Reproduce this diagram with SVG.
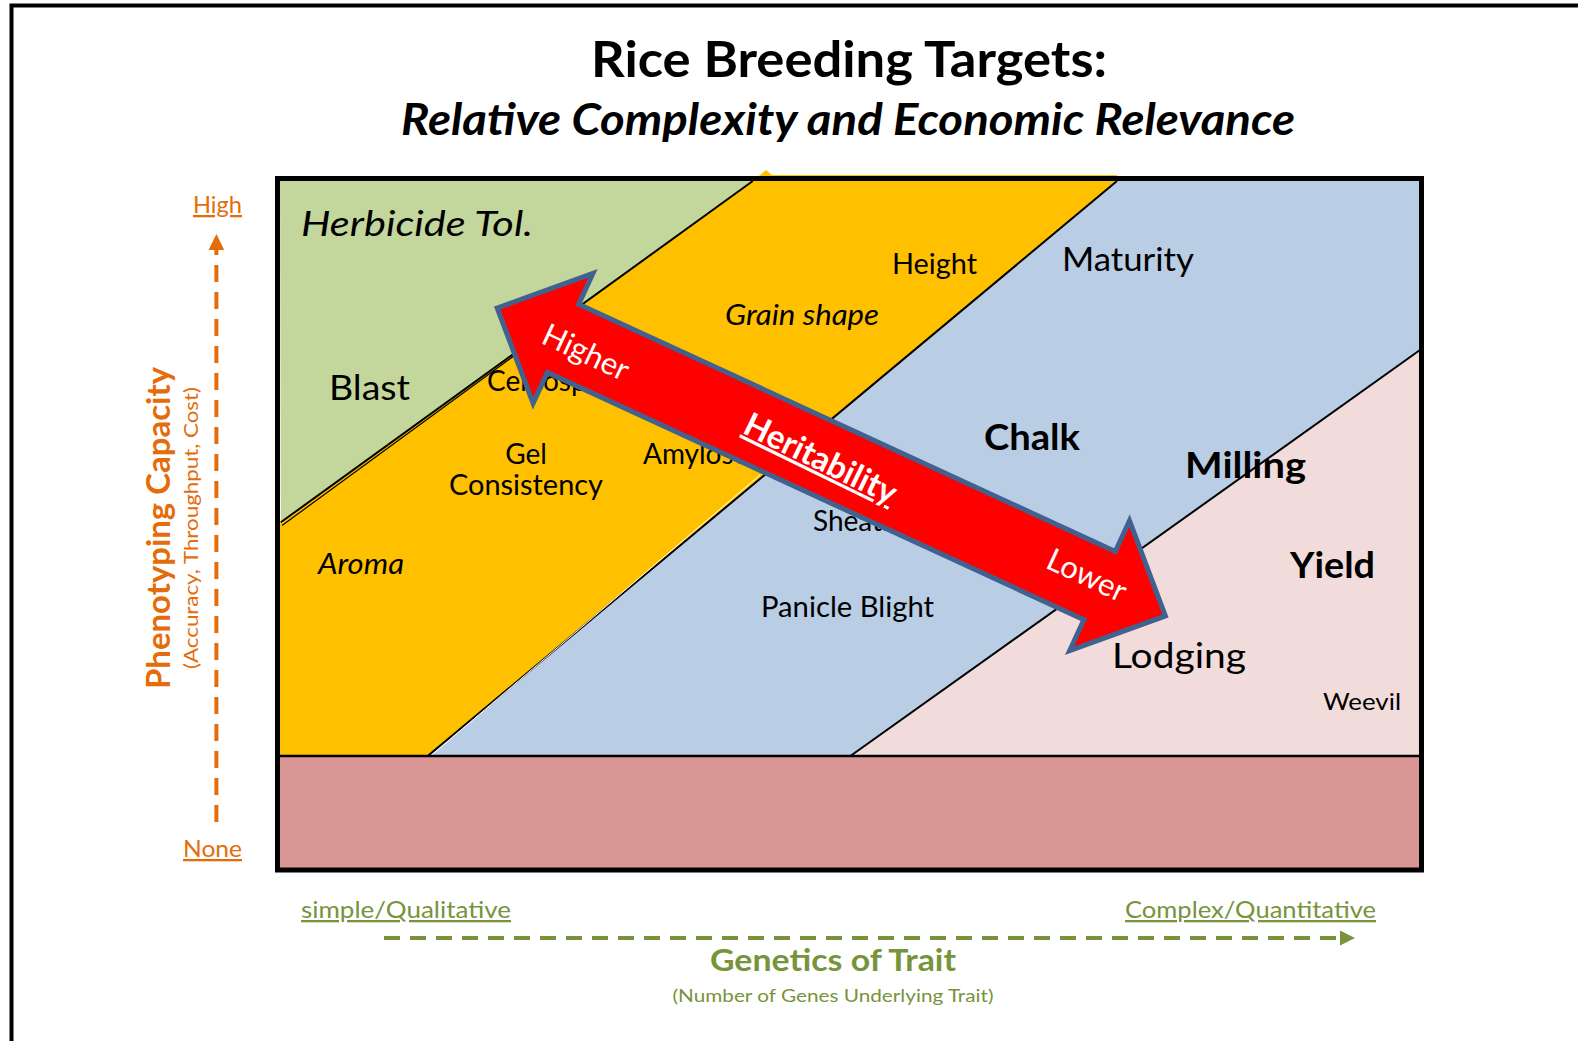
<svg xmlns="http://www.w3.org/2000/svg" width="1578" height="1041" viewBox="0 0 1578 1041">
  <style>
    text { font-family: Lato, "Open Sans", "Liberation Sans", sans-serif; fill: #000; }
    .bold { font-weight: bold; }
    .ital { font-style: italic; }
    .orange { fill: #E46C0A; }
    .green { fill: #77933C; }
    .white { fill: #FFFFFF; }
    .ul { text-decoration: underline; }
    .edge { stroke: #000; stroke-width: 2; fill: none; }
  </style>

  <!-- outer frame -->
  <path d="M11.5,1048 V5.5 H1590" fill="none" stroke="#000" stroke-width="4"/>

  <!-- title -->
  <g id="title">
    <text x="849" y="77" text-anchor="middle" class="bold" font-size="50" textLength="516" lengthAdjust="spacingAndGlyphs">Rice Breeding Targets:</text>
    <text x="848" y="135" text-anchor="middle" class="bold ital" font-size="44" textLength="894" lengthAdjust="spacingAndGlyphs">Relative Complexity and Economic Relevance</text>
  </g>

  <!-- chart regions -->
  <g id="regions">
    <rect x="280" y="181" width="1140" height="688" fill="#FFFFFF"/>
    <polygon id="zone-green" points="280,181 752.8,181 280.8,522.3" fill="#C3D69B"/>
    <polygon id="zone-yellow" points="752.8,181 760,175 766,170 772,175 1117,175 1117,181 427.7,756 280,756 280,522.3" fill="#FFC000"/>
    <polygon id="zone-blue" points="1117,181 1420,181 1420,350 850.4,756 427.7,756" fill="#B9CDE5"/>
    <polygon id="zone-pink" points="1420,350 1420,756 850.4,756" fill="#F2DCDB"/>
    <rect id="zone-base" x="280" y="756" width="1140" height="113" fill="#D99694"/>
    <!-- boundaries between zones -->
    <line class="edge" x1="752.8" y1="181" x2="280.8" y2="522.3"/>
    <line x1="522" y1="350" x2="282" y2="525.5" stroke="#000" stroke-width="1.2"/>
    <line class="edge" x1="1117" y1="181" x2="427.7" y2="756"/>
    <line x1="760" y1="475" x2="430.5" y2="756" stroke="#FFFFFF" stroke-width="1"/>
    <line class="edge" x1="1420" y1="350" x2="850.4" y2="756"/>
    <line x1="280" y1="756" x2="1420" y2="756" stroke="#000" stroke-width="2.5"/>
    <rect x="277.5" y="178.5" width="1144" height="691.5" fill="none" stroke="#000" stroke-width="5"/>
  </g>

  <!-- trait labels -->
  <g id="traits">
    <text x="301" y="236" class="ital" font-size="35" textLength="232" lengthAdjust="spacingAndGlyphs">Herbicide Tol.</text>
    <text x="329" y="400" font-size="35" textLength="81" lengthAdjust="spacingAndGlyphs">Blast</text>
    <text x="487" y="391" font-size="28">Cercospora</text>
    <text x="526" y="464" text-anchor="middle" font-size="28">Gel</text>
    <text x="526" y="495" text-anchor="middle" font-size="28" textLength="154" lengthAdjust="spacingAndGlyphs">Consistency</text>
    <text x="643" y="464" font-size="28">Amylose</text>
    <text x="725" y="325" class="ital" font-size="28" textLength="154" lengthAdjust="spacingAndGlyphs">Grain shape</text>
    <text x="892" y="274" font-size="28" textLength="85" lengthAdjust="spacingAndGlyphs">Height</text>
    <text x="1062" y="271" font-size="32" textLength="132" lengthAdjust="spacingAndGlyphs">Maturity</text>
    <text x="984" y="450" class="bold" font-size="37" textLength="96" lengthAdjust="spacingAndGlyphs">Chalk</text>
    <text x="1185" y="478" class="bold" font-size="37" textLength="121" lengthAdjust="spacingAndGlyphs">Milling</text>
    <text x="813" y="531" font-size="28">Sheath</text>
    <text x="761" y="617" font-size="28" textLength="173" lengthAdjust="spacingAndGlyphs">Panicle Blight</text>
    <text x="318" y="574" class="ital" font-size="28" textLength="86" lengthAdjust="spacingAndGlyphs">Aroma</text>
    <text x="1290" y="578" class="bold" font-size="37" textLength="85" lengthAdjust="spacingAndGlyphs">Yield</text>
    <text x="1112" y="668" font-size="35" textLength="134" lengthAdjust="spacingAndGlyphs">Lodging</text>
    <text x="1323" y="710" font-size="23" textLength="78" lengthAdjust="spacingAndGlyphs">Weevil</text>
  </g>

  <!-- heritability double arrow -->
  <g id="heritability">
    <polygon points="497.2,308 592.9,273.4 578.7,304.2 1115.3,551.5 1129.5,520.7 1165.4,615.9 1069.7,650.5 1083.9,619.7 547.3,372.4 533.1,403.2" fill="#FF0000" stroke="#41628E" stroke-width="5" stroke-linejoin="miter"/>
    <text transform="translate(586,352) rotate(25)" y="11" text-anchor="middle" class="white" font-size="31">Higher</text>
    <text transform="translate(821,458) rotate(26)" y="12" text-anchor="middle" class="white bold ul" font-size="33">Heritability</text>
    <text transform="translate(1087,575) rotate(25)" y="11" text-anchor="middle" class="white" font-size="31">Lower</text>
  </g>

  <!-- vertical axis -->
  <g id="axis-y">
    <text x="193" y="213" class="orange ul" font-size="23" textLength="49" lengthAdjust="spacingAndGlyphs">High</text>
    <text x="183" y="857" class="orange ul" font-size="23" textLength="59" lengthAdjust="spacingAndGlyphs">None</text>
    <text transform="translate(170,528) rotate(-90)" text-anchor="middle" class="orange bold" font-size="32" textLength="322" lengthAdjust="spacingAndGlyphs">Phenotyping Capacity</text>
    <text transform="translate(198,528) rotate(-90)" text-anchor="middle" class="orange" font-size="20" textLength="282" lengthAdjust="spacingAndGlyphs">(Accuracy, Throughput, Cost)</text>
  </g>

  <!-- horizontal axis -->
  <g id="axis-x">
    <text x="301" y="918" class="green ul" font-size="23" textLength="210" lengthAdjust="spacingAndGlyphs">simple/Qualitative</text>
    <text x="1125" y="918" class="green ul" font-size="23" textLength="251" lengthAdjust="spacingAndGlyphs">Complex/Quantitative</text>
    <text x="833" y="971" text-anchor="middle" class="green bold" font-size="30" textLength="246" lengthAdjust="spacingAndGlyphs">Genetics of Trait</text>
    <text x="833" y="1002" text-anchor="middle" class="green" font-size="18" textLength="321" lengthAdjust="spacingAndGlyphs">(Number of Genes Underlying Trait)</text>
  </g>

  <!-- axis connectors -->
  <g id="connectors">
    <path d="M216.4,822 V250" stroke="#E46C0A" stroke-width="4" stroke-dasharray="17 10" fill="none"/>
    <polygon points="216.4,234 208.6,250 224.2,250" fill="#E46C0A"/>
    <path d="M384,938 H1340" stroke="#77933C" stroke-width="4" stroke-dasharray="16 10" fill="none"/>
    <polygon points="1355,938 1340,930.5 1340,945.5" fill="#77933C"/>
  </g>
</svg>
